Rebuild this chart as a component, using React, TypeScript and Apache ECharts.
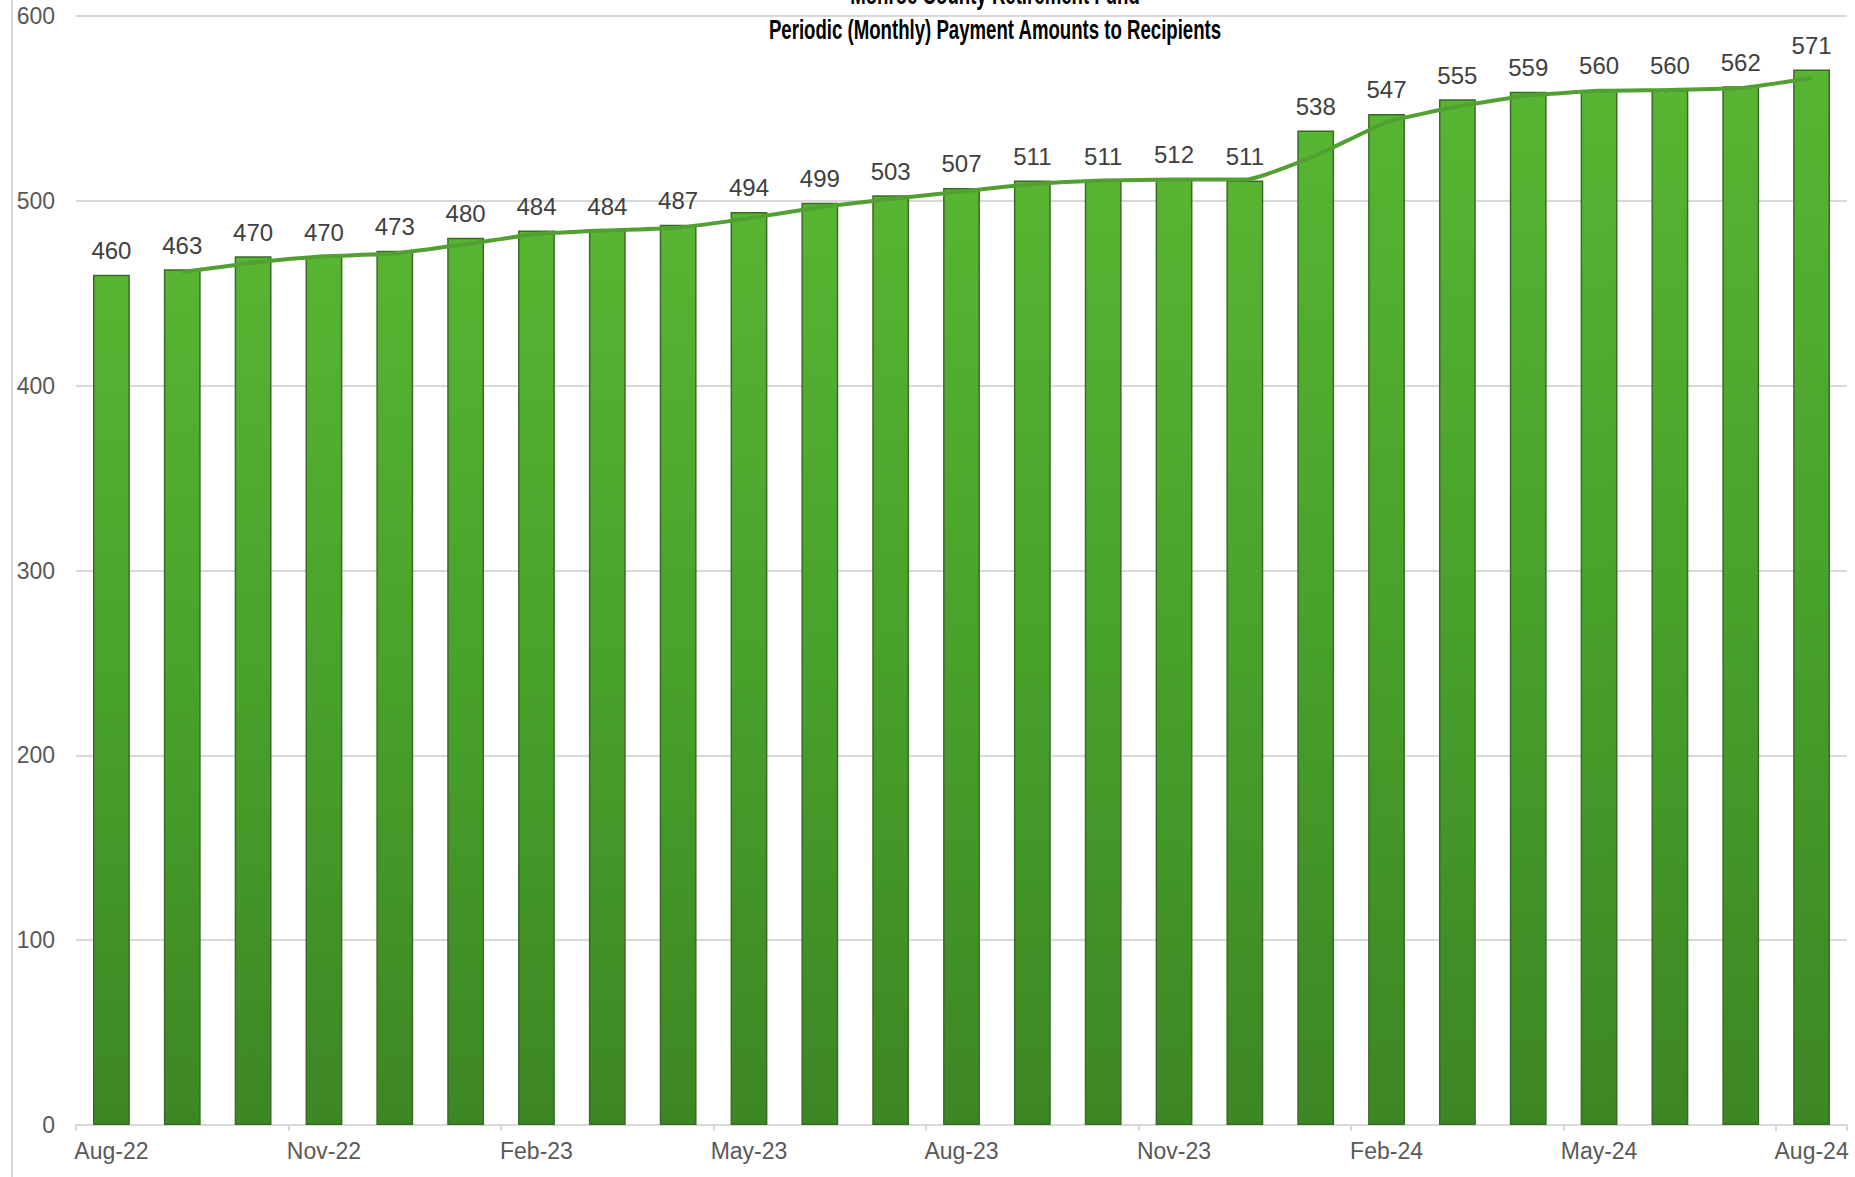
import React, { useEffect, useRef } from "react";
import * as echarts from "echarts";

const categories = [
  "Aug-22", "Sep-22", "Oct-22", "Nov-22", "Dec-22", "Jan-23", "Feb-23", "Mar-23", "Apr-23",
  "May-23", "Jun-23", "Jul-23", "Aug-23", "Sep-23", "Oct-23", "Nov-23", "Dec-23", "Jan-24",
  "Feb-24", "Mar-24", "Apr-24", "May-24", "Jun-24", "Jul-24", "Aug-24",
];
const payments = [
  460, 463, 470, 470, 473, 480, 484, 484, 487, 494, 499, 503, 507, 511, 511, 512, 511, 538,
  547, 555, 559, 560, 560, 562, 571,
];
// 2-period moving-average trendline as drawn in the reference
const trend = [
  null, 461.5, 466.5, 470, 471.5, 476.5, 482, 484, 485.5, 490.5, 496.5, 501, 505, 509, 511,
  511.5, 511.5, 524.5, 542.5, 551, 557, 559.5, 560, 561, 566.5,
];
const yTicks = { min: 0, max: 600, interval: 100 };
const titleLines = ["Monroe County Retirement Fund", "Periodic (Monthly) Payment Amounts to Recipients"];

export default function App() {
  const ref = useRef<HTMLDivElement>(null);
  useEffect(() => {
    if (!ref.current) return;
    const chart = echarts.init(ref.current, null, { renderer: "svg" });
    const font = "'Liberation Sans', Arial, sans-serif";
    const titleFont = "'Liberation Sans Narrow', 'Arial Narrow', 'Liberation Sans', Arial, sans-serif";
    chart.setOption({
      animation: false,
      backgroundColor: "#ffffff",
      grid: { left: 76, right: 8, top: 16, bottom: 52, containLabel: false },
      graphic: [
        { type: "line", shape: { x1: 12, y1: 0, x2: 12, y2: 1177 }, style: { stroke: "#d9d9d9", lineWidth: 2 }, z: 0 },
        {
          type: "text", x: 995, y: -6, z: 10, scaleX: 0.665,
          style: { text: titleLines[0], align: "center", verticalAlign: "middle", fontFamily: titleFont, fontWeight: "bold", fontSize: 28, fill: "#000000" },
        },
        {
          type: "text", x: 995, y: 29, z: 10, scaleX: 0.665,
          style: { text: titleLines[1], align: "center", verticalAlign: "middle", fontFamily: titleFont, fontWeight: "bold", fontSize: 28, fill: "#000000" },
        },
      ],
      xAxis: {
        type: "category",
        data: categories,
        boundaryGap: true,
        axisLine: { lineStyle: { color: "#d9d9d9", width: 2 } },
        axisTick: { show: true, interval: 2, length: 6, lineStyle: { color: "#d9d9d9", width: 2 } },
        axisLabel: { interval: 2, color: "#595959", fontSize: 23, fontFamily: font, margin: 14 },
        splitLine: { show: false },
      },
      yAxis: {
        type: "value",
        min: yTicks.min,
        max: yTicks.max,
        interval: yTicks.interval,
        axisLine: { show: false },
        axisTick: { show: false },
        axisLabel: { color: "#595959", fontSize: 23, fontFamily: font, margin: 21 },
        splitLine: { lineStyle: { color: "#d9d9d9", width: 2 } },
      },
      series: [
        {
          type: "bar",
          data: payments,
          barWidth: "52%",
          itemStyle: {
            color: new echarts.graphic.LinearGradient(0, 0, 0, 1, [
              { offset: 0, color: "#57b532" },
              { offset: 0.5, color: "#48a12b" },
              { offset: 1, color: "#3d8624" },
            ]),
            borderColor: "#3b6a26",
            borderWidth: 1.5,
          },
          label: {
            show: true,
            position: "top",
            distance: 12,
            color: "#404040",
            fontSize: 24,
            fontFamily: font,
          },
          z: 2,
        },
        {
          type: "line",
          data: trend,
          smooth: 0.15,
          symbol: "none",
          lineStyle: { color: "#52a032", width: 4 },
          z: 3,
        },
      ],
    });
    return () => chart.dispose();
  }, []);
  return (
    <div
      ref={ref}
      style={{ position: "absolute", left: 0, top: 0, width: 1855, height: 1177 }}
    />
  );
}
